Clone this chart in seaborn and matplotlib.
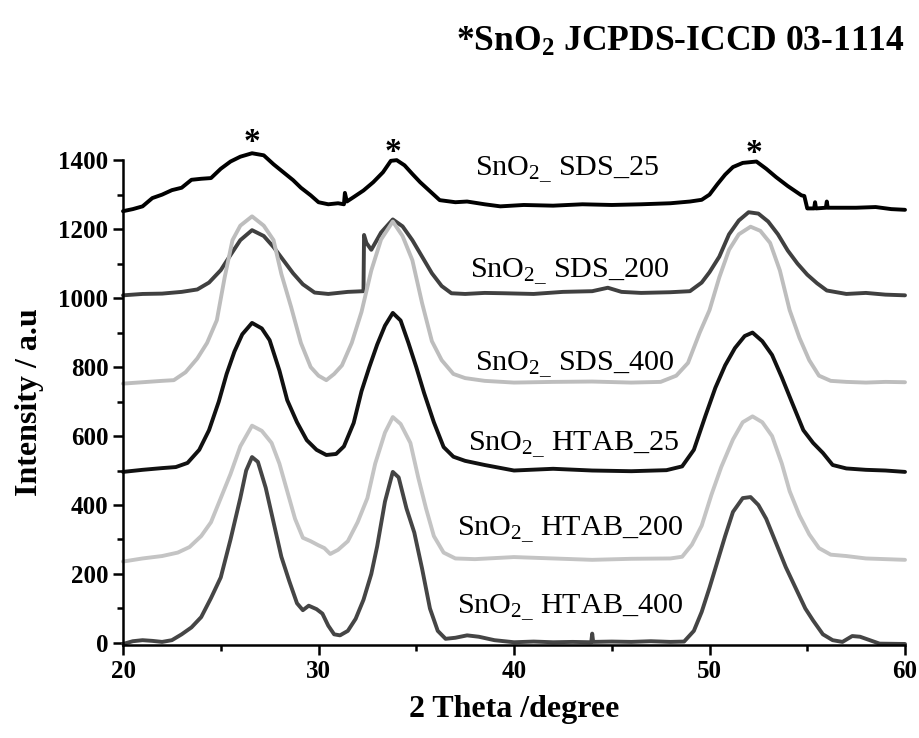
import numpy as np
import pandas as pd
import matplotlib
matplotlib.use("Agg")
import matplotlib.pyplot as plt
import seaborn as sns
from matplotlib.ticker import MultipleLocator

# XRD patterns (2 theta in degree, intensity in a.u.)
sds25_x = [20.0, 20.5, 21.0, 21.5, 22.0, 22.5, 23.0, 23.5, 24.0, 24.5, 25.0, 25.5, 26.0, 26.6,
           27.2, 27.7, 28.2, 28.7, 29.1, 29.6, 30.0, 30.5, 31.0, 31.3, 31.35, 31.45, 31.8, 32.3,
           32.8, 33.3, 33.7, 34.0, 34.4, 34.8, 35.2, 35.7, 36.2, 37.0, 37.6, 38.5, 39.3, 40.5,
           42.0, 43.5, 45.0, 46.5, 48.0, 49.0, 49.6, 50.0, 50.4, 50.8, 51.2, 51.7, 52.4, 52.9,
           53.4, 54.0, 54.7, 54.85, 55.0, 55.35, 55.4, 55.45, 55.95, 56.0, 56.05, 56.5, 57.5,
           58.5, 59.3, 60.0]
sds25_y = [1252, 1258, 1266, 1290, 1300, 1313, 1320, 1343, 1346, 1348, 1375, 1396, 1410, 1420,
           1414, 1388, 1365, 1342, 1320, 1298, 1278, 1272, 1275, 1272, 1305, 1280, 1293, 1312,
           1336, 1365, 1398, 1400, 1385, 1360, 1336, 1310, 1284, 1278, 1280, 1272, 1266, 1270,
           1268, 1272, 1270, 1272, 1275, 1280, 1285, 1300, 1330, 1358, 1380, 1392, 1396, 1375,
           1351, 1325, 1298, 1296, 1260, 1260, 1278, 1260, 1262, 1280, 1262, 1262, 1262,
           1264, 1258, 1256]

sds200_x = [20.0, 21.0, 22.0, 23.0, 23.8, 24.4, 25.0, 25.5, 26.0, 26.6, 27.2, 27.7, 28.2, 28.7,
            29.2, 29.8, 30.5, 31.5, 32.3, 32.33, 32.45, 32.7, 33.2, 33.8, 34.3, 34.8, 35.3,
            35.8, 36.3, 36.8, 37.5, 38.5, 39.5, 41.0, 42.5, 44.0, 44.8, 45.5, 46.5, 48.0, 49.0,
            49.6, 50.0, 50.5, 51.0, 51.5, 52.0, 52.5, 53.0, 53.5, 54.0, 54.5, 55.0, 55.5, 56.0,
            57.0, 58.0, 59.0, 60.0]
sds200_y = [1008, 1012, 1013, 1018, 1025, 1045, 1081, 1125, 1168, 1197, 1180, 1148, 1110, 1072,
            1040, 1016, 1012, 1018, 1020, 1183, 1160, 1140, 1190, 1228, 1208, 1168, 1120,
            1072, 1035, 1014, 1012, 1015, 1014, 1012, 1018, 1020, 1030, 1018, 1015, 1017, 1020,
            1045, 1075, 1120, 1185, 1225, 1249, 1245, 1222, 1185, 1138, 1100, 1068, 1043, 1022,
            1012, 1015, 1010, 1008]

sds400_x = [20.0, 21.0, 22.0, 22.6, 23.2, 23.8, 24.3, 24.8, 25.2, 25.6, 26.0, 26.6, 27.2, 27.7,
            28.1, 28.6, 29.1, 29.6, 30.0, 30.4, 30.8, 31.2, 31.7, 32.2, 32.7, 33.2, 33.8, 34.3,
            34.8, 35.3, 35.8, 36.3, 36.9, 37.5, 38.5, 40.0, 42.0, 44.0, 46.0, 47.5, 48.3, 48.9,
            49.5, 50.0, 50.5, 51.0, 51.5, 52.1, 52.6, 53.1, 53.6, 54.1, 54.6, 55.1, 55.6, 56.2,
            57.0, 58.0, 59.0, 60.0]
sds400_y = [752, 756, 760, 762, 785, 825, 870, 936, 1060, 1168, 1210, 1237, 1210, 1168,
            1070, 974, 870, 800, 775, 762, 780, 805, 870, 960, 1080, 1170, 1222, 1180,
            1110, 985, 875, 820, 780, 768, 760, 755, 757, 758, 755, 757, 775, 812,
            900, 965, 1060, 1140, 1185, 1207, 1195, 1160, 1080, 965, 885, 820, 775, 760,
            757, 755, 757, 756]

htab25_x = [20.0, 21.0, 22.0, 22.7, 23.3, 23.9, 24.4, 24.9, 25.3, 25.7, 26.1, 26.6, 27.1, 27.5,
            28.0, 28.4, 28.9, 29.4, 29.9, 30.4, 30.9, 31.3, 31.8, 32.2, 32.6, 33.0, 33.4, 33.8,
            34.2, 34.6, 35.0, 35.4, 35.9, 36.4, 36.9, 37.5, 38.5, 40.0, 42.0, 44.0, 46.0, 47.8,
            48.6, 49.2, 49.8, 50.3, 50.8, 51.3, 51.8, 52.2, 52.7, 53.2, 53.7, 54.2, 54.8, 55.3,
            55.8, 56.3, 57.0, 58.0, 59.0, 60.0]
htab25_y = [496, 502, 507, 510, 522, 560, 617, 700, 780, 845, 895, 928, 912, 878,
            790, 704, 640, 588, 560, 545, 548, 570, 638, 730, 800, 865, 920, 957,
            935, 870, 800, 725, 640, 568, 540, 528, 516, 500, 505, 500, 498, 501,
            512, 560, 660, 740, 805, 855, 890, 900, 875, 835, 770, 700, 617, 580,
            551, 516, 506, 502, 500, 496]

htab200_x = [20.0, 21.0, 22.0, 22.8, 23.4, 24.0, 24.5, 25.0, 25.5, 26.0, 26.6, 27.1, 27.6, 28.0,
             28.4, 28.8, 29.2, 29.6, 30.0, 30.3, 30.6, 31.0, 31.5, 32.0, 32.5, 32.9, 33.4, 33.8,
             34.2, 34.7, 35.1, 35.5, 35.9, 36.4, 37.0, 38.0, 40.0, 42.0, 44.0, 46.0, 48.0, 48.6,
             49.1, 49.6, 50.1, 50.6, 51.2, 51.7, 52.2, 52.7, 53.2, 53.7, 54.1, 54.6, 55.1, 55.6,
             56.2, 57.0, 58.0, 59.0, 60.0]
htab200_y = [236, 245, 252, 262, 278, 310, 350, 420, 490, 570, 630, 615, 580, 520,
             440, 360, 305, 295, 283, 275, 258, 270, 295, 350, 420, 520, 610, 655,
             635, 580, 480, 390, 310, 262, 245, 243, 249, 245, 241, 244, 245, 250,
             285, 340, 430, 510, 590, 640, 657, 640, 600, 520, 440, 370, 315, 275,
             256, 252, 245, 243, 241]

htab400_x = [20.0, 20.5, 21.0, 21.5, 22.0, 22.5, 23.0, 23.5, 24.0, 24.5, 25.0, 25.5, 26.0, 26.3,
             26.6, 26.9, 27.3, 27.7, 28.1, 28.5, 28.9, 29.2, 29.5, 29.9, 30.2, 30.5, 30.8, 31.1,
             31.5, 31.9, 32.3, 32.7, 33.0, 33.4, 33.8, 34.1, 34.5, 34.9, 35.3, 35.7, 36.1, 36.5,
             37.0, 37.6, 38.2, 39.0, 40.0, 41.0, 42.0, 43.0, 43.95, 44.0, 44.05, 45.0, 46.0, 47.0,
             48.0, 48.7, 49.2, 49.6, 50.0, 50.4, 50.8, 51.2, 51.7, 52.1, 52.5, 52.9, 53.4, 53.9,
             54.4, 54.9, 55.3, 55.8, 56.3, 56.8, 57.3, 57.7, 58.1, 58.7, 60.0]
htab400_y = [-3, 5, 8, 6, 3, 8, 25, 45, 75, 130, 190, 300, 420, 500,
             539, 525, 450, 350, 250, 180, 115, 95, 108, 98, 85, 50, 25, 22,
             35, 70, 125, 200, 280, 410, 496, 480, 390, 320, 215, 100, 35, 12,
             15, 22, 18, 8, 2, 4, 2, 3, 2, 27, 3, 4, 3, 5,
             3, 4, 35, 90, 160, 235, 310, 380, 420, 423, 400, 360, 290, 220,
             160, 100, 65, 25, 8, 3, 20, 18, 10, -2, -3]

sample_names = ["SDS_25", "SDS_200", "SDS_400", "HTAB_25", "HTAB_200", "HTAB_400"]
sample_colors = ["#000000", "#404040", "#bdbdbd", "#111111", "#c4c4c4", "#454545"]
label_x = [38.0, 37.75, 38.0, 37.65, 37.1, 37.1]
label_y = [1371, 1075, 806, 574, 328, 101]
star_x = [26.6, 33.8, 52.3]
star_y = [1452, 1422, 1418]

xs = [sds25_x, sds200_x, sds400_x, htab25_x, htab200_x, htab400_x]
ys = [sds25_y, sds200_y, sds400_y, htab25_y, htab200_y, htab400_y]
df = pd.concat([pd.DataFrame({"theta": x, "intensity": y, "sample": n})
                for x, y, n in zip(xs, ys, sample_names)], ignore_index=True)

sns.set_style("ticks")
plt.rcParams["font.family"] = ["Liberation Serif", "DejaVu Serif"]
plt.rcParams["mathtext.fontset"] = "custom"
plt.rcParams["mathtext.rm"] = "Liberation Serif"
plt.rcParams["mathtext.bf"] = "Liberation Serif:bold"
plt.rcParams["mathtext.it"] = "Liberation Serif:italic"
for key in ["text.color", "axes.labelcolor", "xtick.color", "ytick.color", "axes.edgecolor"]:
    plt.rcParams[key] = "black"

fig = plt.figure(figsize=(9.2, 7.38), dpi=100)
ax = fig.add_axes([0.1337, 0.126, 0.85, 0.657])

sns.lineplot(data=df, x="theta", y="intensity", hue="sample", hue_order=sample_names,
             palette=dict(zip(sample_names, sample_colors)), estimator=None, sort=False,
             linewidth=2.8, legend=False, ax=ax)
for line in ax.lines:
    line.set_clip_on(False)

ax.set_xlim(20, 60)
ax.set_ylim(-6, 1400)
ax.xaxis.set_major_locator(MultipleLocator(10))
ax.xaxis.set_minor_locator(MultipleLocator(5))
ax.yaxis.set_major_locator(MultipleLocator(200))
ax.yaxis.set_minor_locator(MultipleLocator(100))
ax.tick_params(which="major", direction="out", length=7, width=1.8, labelsize=18)
ax.tick_params(which="minor", direction="out", length=4, width=1.8)
for lab in ax.get_xticklabels() + ax.get_yticklabels():
    lab.set_fontweight("bold")
sns.despine(ax=ax)
for sp in ["left", "bottom"]:
    ax.spines[sp].set_linewidth(1.8)

ax.set_xlabel("2 Theta /degree", fontsize=23, fontweight="bold", labelpad=9)
ax.set_ylabel("Intensity / a.u", fontsize=23, fontweight="bold", labelpad=10)

for name, lx, ly in zip(sample_names, label_x, label_y):
    ax.text(lx, ly, r"SnO$_{\mathrm{2\_}}$ " + name, fontsize=21.7, ha="left", va="center")

for sx, sy in zip(star_x, star_y):
    ax.text(sx, sy, "*", fontsize=24, fontweight="bold", ha="center", va="center")

fig.text(0.984, 0.942, r"*SnO$_{\mathbf{2}}$ JCPDS-ICCD 03-1114", fontsize=25.6,
         fontweight="bold", ha="right", va="center")

fig.savefig("out.png", dpi=100)
